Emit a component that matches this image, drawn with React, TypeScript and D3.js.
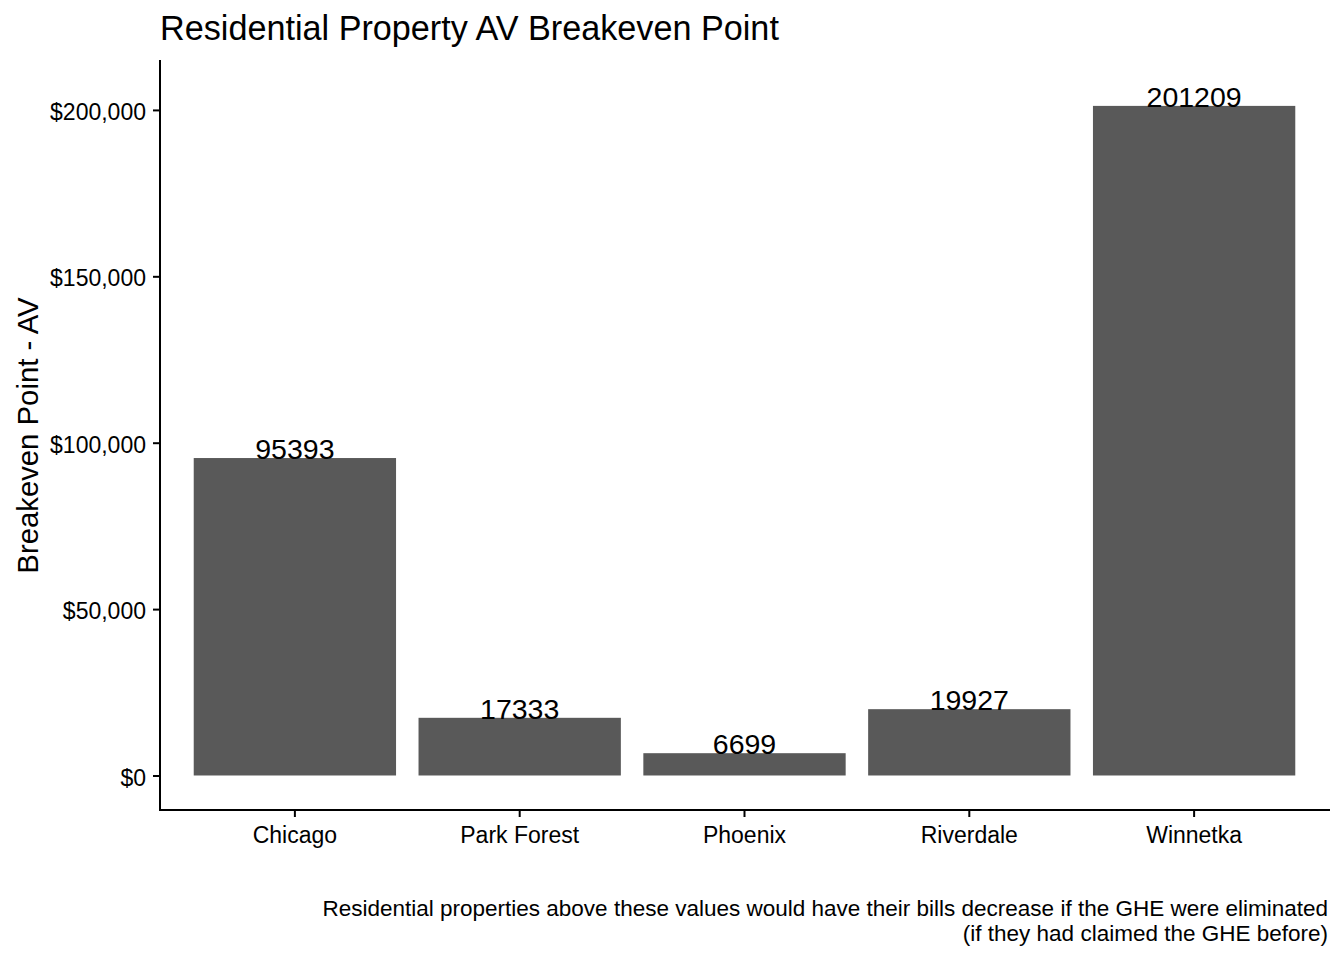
import React, { useEffect, useRef } from "react";
import * as d3 from "d3";

const categories = ["Chicago", "Park Forest", "Phoenix", "Riverdale", "Winnetka"];
const breakeven = [95393, 17333, 6699, 19927, 201209];
const yTicks = [0, 50000, 100000, 150000, 200000];
const chartTitle = "Residential Property AV Breakeven Point";
const yTitle = "Breakeven Point - AV";
const captionLines = [
  "Residential properties above these values would have their bills decrease if the GHE were eliminated",
  "(if they had claimed the GHE before)",
];

const FONT = "'Liberation Sans', Arial, sans-serif";

const BreakevenChart = () => {
  const ref = useRef<SVGSVGElement | null>(null);

  useEffect(() => {
    const width = 1344, height = 960;
    const panel = { left: 160, right: 1329, top: 61, bottom: 810 };

    const svg = d3.select(ref.current);
    svg.selectAll("*").remove();

    var x = d3.scaleBand<string>()
      .domain(categories)
      .range([panel.left, panel.right])
      .paddingInner(0.1)
      .paddingOuter(0.15);
    // ggplot-style expansion around 0..max
    var y = d3.scaleLinear().domain([-10370, 214700]).range([panel.bottom, panel.top]);

    svg.attr("width", width).attr("height", height);
    svg.append("rect").attr("width", width).attr("height", height).attr("fill", "white");

    // bars
    svg.append("g").selectAll("rect")
      .data(categories)
      .join("rect")
      .attr("x", (d) => x(d)!)
      .attr("width", x.bandwidth())
      .attr("y", (d, i) => y(breakeven[i]))
      .attr("height", (d, i) => y(0) - y(breakeven[i]))
      .attr("fill", "#595959");

    // value labels
    svg.append("g").selectAll("text")
      .data(categories)
      .join("text")
      .attr("x", (d) => x(d)! + x.bandwidth() / 2)
      .attr("y", (d, i) => y(breakeven[i]) + 1)
      .attr("text-anchor", "middle")
      .style("font-family", FONT)
      .style("font-size", "28.5px")
      .attr("fill", "black")
      .text((d, i) => String(breakeven[i]));

    // y axis
    const fmt = d3.format("$,");
    const yAxis = svg.append("g").attr("transform", `translate(${panel.left},0)`)
      .call(d3.axisLeft(y).tickValues(yTicks).tickSize(7).tickPadding(7).tickFormat((v) => fmt(v as number)));
    yAxis.select(".domain").remove();
    yAxis.selectAll("line").attr("stroke", "black").attr("stroke-width", 2);
    yAxis.selectAll("text")
      .attr("dy", "0.37em")
      .attr("y", 1)
      .style("font-family", FONT)
      .style("font-size", "23px")
      .attr("fill", "black");

    // x axis
    const xAxis = svg.append("g").attr("transform", `translate(0,${panel.bottom})`)
      .call(d3.axisBottom(x).tickSize(7).tickPadding(10));
    xAxis.select(".domain").remove();
    xAxis.selectAll("line").attr("stroke", "black").attr("stroke-width", 2);
    xAxis.selectAll("text")
      .style("font-family", FONT)
      .style("font-size", "23px")
      .attr("fill", "black");

    // axis lines
    svg.append("path")
      .attr("d", `M${panel.left},${panel.top}V${panel.bottom}H${panel.right}`)
      .attr("fill", "none")
      .attr("stroke", "black")
      .attr("stroke-width", 2)
      .attr("stroke-linecap", "square");

    // title
    svg.append("text")
      .attr("x", panel.left)
      .attr("y", 40)
      .style("font-family", FONT)
      .style("font-size", "34.2px")
      .attr("fill", "black")
      .text(chartTitle);

    // y title
    svg.append("text")
      .attr("transform", `translate(38,${(panel.top + panel.bottom) / 2}) rotate(-90)`)
      .attr("text-anchor", "middle")
      .style("font-family", FONT)
      .style("font-size", "29.3px")
      .attr("fill", "black")
      .text(yTitle);

    // caption
    svg.append("g").selectAll("text")
      .data(captionLines)
      .join("text")
      .attr("x", 1328)
      .attr("y", (d, i) => 916 + i * 25)
      .attr("text-anchor", "end")
      .style("font-family", FONT)
      .style("font-size", "22.5px")
      .attr("fill", "black")
      .text((d) => d);
  }, []);

  return <svg ref={ref} style={{ position: "absolute", left: 0, top: 0, display: "block" }} />;
};

export default function App() {
  return <BreakevenChart />;
}
